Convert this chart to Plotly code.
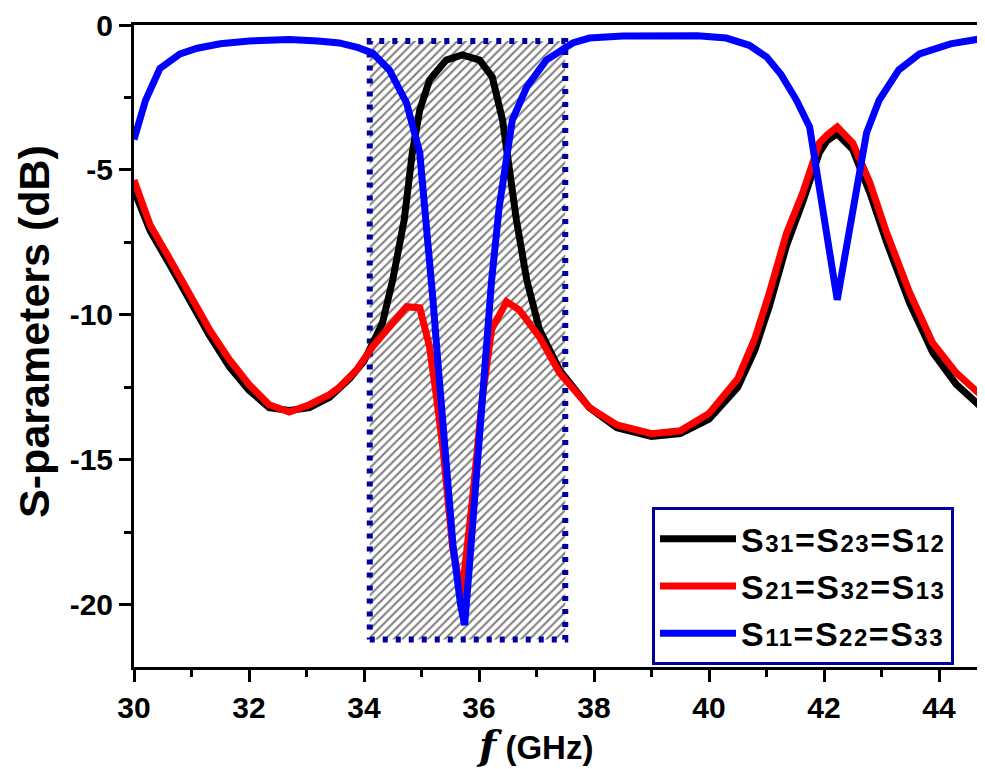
import plotly.graph_objects as go

# ---- data ----
f_s31 = [30.0, 30.28, 30.63, 30.97, 31.31, 31.66, 32.0, 32.35, 32.7, 33.05, 33.4, 33.75, 34.0,
         34.32, 34.5, 34.7, 34.84, 34.97, 35.14, 35.43, 35.71, 36.01, 36.23, 36.41, 36.53,
         36.65, 36.83, 37.05, 37.4, 37.92, 38.4, 39.0, 39.5, 40.0, 40.5, 40.8, 41.05, 41.35,
         41.63, 41.92, 42.05, 42.23, 42.5, 42.8, 43.09, 43.49, 43.89, 44.3, 44.8]
s31 = [-5.7, -7.1, -8.3, -9.5, -10.7, -11.8, -12.6, -13.2, -13.3, -13.2, -12.85, -12.2, -11.6,
       -10.28, -8.79, -6.72, -4.41, -2.93, -1.9, -1.21, -1.03, -1.21, -1.79, -3.28, -5.0,
       -6.72, -8.79, -10.5, -11.9, -13.2, -13.9, -14.2, -14.1, -13.6, -12.5, -11.2, -9.7, -7.6,
       -6.1, -4.4, -4.0, -3.75, -4.3, -5.8, -7.5, -9.6, -11.3, -12.4, -13.3]

f_s21 = [30.0, 30.28, 30.63, 30.97, 31.31, 31.66, 32.0, 32.35, 32.7, 33.05, 33.4, 33.57, 33.87,
         34.15, 34.44, 34.74, 34.97, 35.14, 35.26, 35.37, 35.54, 35.7, 35.89, 36.06, 36.22,
         36.48, 36.7, 37.05, 37.4, 37.92, 38.4, 39.0, 39.5, 40.0, 40.5, 40.8, 41.05, 41.35,
         41.63, 41.92, 42.05, 42.23, 42.5, 42.8, 43.09, 43.49, 43.89, 44.3, 44.8]
s21 = [-5.35, -6.9, -8.1, -9.3, -10.5, -11.55, -12.4, -13.1, -13.35, -13.1, -12.75, -12.5, -11.9,
       -11.1, -10.4, -9.72, -9.76, -11.1, -12.83, -14.55, -18.0, -19.7, -16.3, -12.83, -10.5,
       -9.55, -9.83, -10.76, -12.0, -13.2, -13.8, -14.1, -14.0, -13.4, -12.2, -10.8, -9.24, -7.17,
       -5.79, -4.07, -3.8, -3.52, -4.07, -5.45, -7.17, -9.24, -10.97, -12.0, -12.9]

f_s11 = [30.0, 30.1, 30.2, 30.45, 30.8, 31.1, 31.5, 32.0, 32.7, 33.2, 33.57, 33.9, 34.15, 34.44,
         34.74, 34.97, 35.1, 35.2, 35.3, 35.42, 35.55, 35.68, 35.75, 35.82, 35.9, 36.01, 36.13,
         36.22, 36.35, 36.48, 36.58, 36.83, 37.17, 37.63, 37.92, 38.5, 39.2, 39.8, 40.3, 40.7,
         41.0, 41.25, 41.52, 41.75, 42.23, 42.74, 42.96, 43.3, 43.66, 44.2, 44.8]
s11 = [-3.95, -3.3, -2.6, -1.5, -1.0, -0.8, -0.65, -0.55, -0.5, -0.55, -0.62, -0.78, -0.97, -1.55,
       -2.69, -4.41, -7.0, -9.5, -12.0, -15.0, -18.0, -20.0, -20.7, -19.0, -16.8, -14.0, -11.1,
       -8.8, -6.3, -4.41, -3.28, -2.14, -1.21, -0.62, -0.45, -0.38, -0.35, -0.37, -0.45, -0.7,
       -1.1, -1.7, -2.59, -3.52, -9.48, -3.72, -2.59, -1.55, -1.0, -0.65, -0.45]

# passband highlight (hatched box)
band_f = [34.1, 37.5]
band_db = [-21.2, -0.55]

# tick labels
x_tickvals = [30, 32, 34, 36, 38, 40, 42, 44]
y_tickvals = [0, -5, -10, -15, -20]
y_ticktext = ["0", "-5", "-10", "-15", "-20"]

def sname(a, b, c):
    d = "<span style='font-size:24px'>%s</span>"
    return "<span style='letter-spacing:1.5px'>S" + d % a + "=S" + d % b + "=S" + d % c + "</span>"

names = [sname("31", "23", "12"), sname("21", "32", "13"), sname("11", "22", "33")]
colors = ["#000000", "#FF0000", "#0000FF"]

FONT = "Liberation Sans, Arial, sans-serif"
DARKBLUE = "#00009C"

fig = go.Figure()

# hatched rectangle
rx = [band_f[0], band_f[1], band_f[1], band_f[0], band_f[0]]
ry = [band_db[0], band_db[0], band_db[1], band_db[1], band_db[0]]
fig.add_trace(go.Scatter(
    x=rx, y=ry, mode="lines", fill="toself",
    fillcolor="white",
    fillpattern=dict(shape="/", fgcolor="#000000", bgcolor="#FFFFFF", size=6, solidity=0.35),
    line=dict(color=DARKBLUE, width=6, dash="5px,8px"),
    showlegend=False, hoverinfo="skip"))

for i, (fx, fy) in enumerate([(f_s31, s31), (f_s21, s21), (f_s11, s11)]):
    fig.add_trace(go.Scatter(
        x=fx, y=fy, mode="lines", name=names[i],
        line=dict(color=colors[i], width=7)))

fig.update_layout(
    width=977, height=761,
    margin=dict(l=126, r=0, t=17, b=102),
    paper_bgcolor="white", plot_bgcolor="white",
    font=dict(family=FONT, size=30, color="black", weight="bold"),
    showlegend=True,
    legend=dict(
        x=0.6087, y=0.249, xanchor="left", yanchor="top",
        bgcolor="white", bordercolor=DARKBLUE, borderwidth=3,
        font=dict(family=FONT, size=34, color="black", weight="bold"),
        itemwidth=76, tracegroupgap=0),
    xaxis=dict(
        range=[30, 44.8], tickvals=x_tickvals,
        showgrid=False, zeroline=False,
        showline=True, linecolor="black", linewidth=3, mirror=True,
        ticks="outside", ticklen=12, tickwidth=3, tickcolor="black",
        minor=dict(dtick=1, ticks="outside", ticklen=7, tickwidth=3, tickcolor="black", showgrid=False),
        tickfont=dict(family=FONT, size=30, weight="bold"),
    ),
    yaxis=dict(
        range=[-22.15, 0], tickvals=y_tickvals, ticktext=y_ticktext,
        showgrid=False, zeroline=False,
        showline=True, linecolor="black", linewidth=3, mirror=False,
        ticks="outside", ticklen=12, tickwidth=3, tickcolor="black",
        minor=dict(dtick=2.5, ticks="outside", ticklen=7, tickwidth=3, tickcolor="black", showgrid=False),
        tickfont=dict(family=FONT, size=30, weight="bold"),
    ),
    annotations=[
        dict(text="<span style='font-family:DejaVu Serif;font-size:40px'><i>f</i></span> (GHz)",
             xref="paper", yref="paper", x=0.471, y=-0.121, xanchor="center", yanchor="middle",
             showarrow=False, font=dict(family=FONT, size=33, color="black", weight="bold")),
        dict(text="S-parameters (dB)", textangle=-90,
             xref="paper", yref="paper", x=-0.1175, y=0.522, xanchor="center", yanchor="middle",
             showarrow=False, font=dict(family=FONT, size=43, color="black", weight="bold")),
    ],
)

fig.write_html("out.html")
